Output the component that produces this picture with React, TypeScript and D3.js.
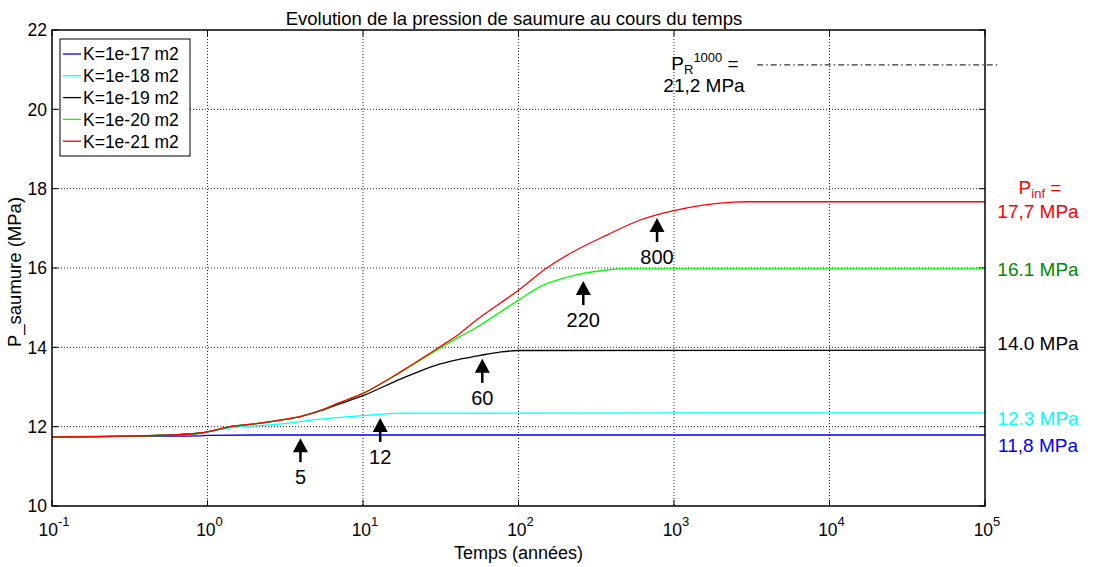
import React from "react";
import * as d3 from "d3";

const title = "Evolution de la pression de saumure au cours du temps";
const xLabel = "Temps (années)";
const yLabel = "P_saumure (MPa)";
const xTickExps = [-1, 0, 1, 2, 3, 4, 5];
const yTicks = [10, 12, 14, 16, 18, 20, 22];

const seriesNames = ["K=1e-17 m2", "K=1e-18 m2", "K=1e-19 m2", "K=1e-20 m2", "K=1e-21 m2"];
const seriesColors = ["#0000FF", "#00FFFF", "#000000", "#00FF00", "#FF0000"];

const tBlue = [0.1, 0.5, 0.9, 1, 2, 100000];
const vBlue = [11.75, 11.76, 11.77, 11.78, 11.79, 11.79];

const tCyan = [0.1, 0.2, 0.3, 0.6, 0.9, 1, 1.4, 2, 3, 5, 10, 12, 18, 100000];
const vCyan = [11.74, 11.75, 11.76, 11.79, 11.84, 11.87, 11.97, 12.02, 12.07, 12.18, 12.28, 12.3, 12.34, 12.35];

const tBlack = [0.1, 0.2, 0.3, 0.6, 0.9, 1, 1.4, 2, 3, 4, 5.4, 7, 10, 17.4, 21, 31.4, 42, 57, 76, 100, 100000];
const vBlack = [11.74, 11.75, 11.76, 11.79, 11.84, 11.87, 12.0, 12.07, 12.17, 12.26, 12.41, 12.57, 12.78, 13.2, 13.33, 13.58, 13.7, 13.8, 13.88, 13.92, 13.93];

const tGreen = [0.1, 0.2, 0.3, 0.6, 0.9, 1, 1.4, 2, 3, 4, 5.4, 7, 10, 17.4, 31.4, 42, 51, 100, 138, 225, 370, 450, 100000];
const vGreen = [11.74, 11.75, 11.76, 11.79, 11.84, 11.87, 12.0, 12.07, 12.17, 12.26, 12.42, 12.6, 12.84, 13.37, 13.98, 14.27, 14.45, 15.19, 15.53, 15.81, 15.95, 15.98, 15.98];

const tRed = [0.1, 0.2, 0.3, 0.6, 0.9, 1, 1.4, 2, 3, 4, 5.4, 7, 10, 17.4, 31.4, 42, 51, 100, 152, 225, 370, 606, 980, 1500, 2400, 3000, 100000];
const vRed = [11.74, 11.75, 11.76, 11.79, 11.84, 11.87, 12.0, 12.07, 12.17, 12.26, 12.42, 12.6, 12.84, 13.38, 14.02, 14.35, 14.62, 15.44, 16.0, 16.41, 16.83, 17.21, 17.44, 17.58, 17.66, 17.67, 17.67];

const seriesT = [tBlue, tCyan, tBlack, tGreen, tRed];
const seriesV = [vBlue, vCyan, vBlack, vGreen, vRed];

// annotations (arrow tip position in data units)
const annLabels = ["5", "12", "60", "220", "800"];
const annT = [3.96, 12.9, 58.5, 261, 778];
const annV = [11.71, 12.22, 13.71, 15.67, 17.26];

// reference level
const prLevel = 21.12;
const prTStart = 3430;
const prTEnd = 125000;

// right-side labels
const rightLabels = ["17,7 MPa", "16.1 MPa", "14.0 MPa", "12.3 MPa", "11,8 MPa"];
const rightLabelV = [17.44, 15.97, 14.1, 12.22, 11.54];
const rightLabelColors = ["#FF0000", "#008A00", "#000000", "#00FFFF", "#0000FF"];

const W = 1093;
const H = 567;
const m = { left: 52, right: 985, top: 30, bottom: 506 };
const FONT = "'Liberation Sans', Arial, Helvetica, sans-serif";

export default function App() {
  const x = d3.scaleLog().domain([0.1, 1e5]).range([m.left, m.right]);
  const y = d3.scaleLinear().domain([10, 22]).range([m.bottom, m.top]);
  const line = d3
    .line<[number, number]>()
    .x((d) => x(d[0]))
    .y((d) => y(d[1]))
    .curve(d3.curveMonotoneX);

  const gridStyle = { stroke: "#000", strokeWidth: 1, strokeDasharray: "1,2", opacity: 0.85 };

  return (
    <svg
      width={W}
      height={H}
      style={{ position: "absolute", left: 0, top: 0, background: "#fff" }}
      fontFamily={FONT}
    >
      <rect x={0} y={0} width={W} height={H} fill="#fff" />
      {/* grid */}
      {xTickExps.slice(1, -1).map((e) => (
        <line key={"gx" + e} x1={x(Math.pow(10, e))} x2={x(Math.pow(10, e))} y1={m.top} y2={m.bottom} {...gridStyle} />
      ))}
      {yTicks.slice(1, -1).map((v) => (
        <line key={"gy" + v} x1={m.left} x2={m.right} y1={y(v)} y2={y(v)} {...gridStyle} />
      ))}
      {/* ticks */}
      {xTickExps.map((e) => (
        <g key={"tx" + e}>
          <line x1={x(Math.pow(10, e))} x2={x(Math.pow(10, e))} y1={m.bottom} y2={m.bottom - 6} stroke="#000" />
          <line x1={x(Math.pow(10, e))} x2={x(Math.pow(10, e))} y1={m.top} y2={m.top + 6} stroke="#000" />
        </g>
      ))}
      {yTicks.map((v) => (
        <g key={"ty" + v}>
          <line x1={m.left} x2={m.left + 6} y1={y(v)} y2={y(v)} stroke="#000" />
          <line x1={m.right} x2={m.right - 6} y1={y(v)} y2={y(v)} stroke="#000" />
        </g>
      ))}
      {/* series */}
      {seriesT.map((ts, i) => (
        <path
          key={"s" + i}
          d={line(ts.map((t, j) => [t, seriesV[i][j]] as [number, number])) || ""}
          fill="none"
          stroke={seriesColors[i]}
          strokeWidth={1.3}
        />
      ))}
      {/* frame */}
      <rect x={m.left} y={m.top} width={m.right - m.left} height={m.bottom - m.top} fill="none" stroke="#000" strokeWidth={1.5} />
      {/* tick labels */}
      {yTicks.map((v) => (
        <text key={"yl" + v} x={m.left - 5} y={y(v)} dy="0.36em" textAnchor="end" fontSize={17.5}>
          {v}
        </text>
      ))}
      {xTickExps.map((e) => (
        <text key={"xl" + e} x={x(Math.pow(10, e)) + 2} y={536} textAnchor="middle" fontSize={17.5}>
          10
          <tspan dy={-10} fontSize={13}>
            {e}
          </tspan>
        </text>
      ))}
      <text x={(m.left + m.right) / 2} y={559} textAnchor="middle" fontSize={18}>
        {xLabel}
      </text>
      <text transform={`translate(21, 272) rotate(-90)`} textAnchor="middle" fontSize={18.5}>
        {yLabel}
      </text>
      <text x={514} y={25} textAnchor="middle" fontSize={18.5}>
        {title}
      </text>
      {/* legend */}
      <rect x={60} y={39} width={130} height={117} fill="#fff" stroke="#000" strokeWidth={1} />
      {seriesNames.map((n, i) => (
        <g key={"lg" + i}>
          <line x1={63} x2={81} y1={54 + i * 21.8} y2={54 + i * 21.8} stroke={seriesColors[i]} strokeWidth={1.3} />
          <text x={83} y={54 + i * 21.8} dy="0.36em" fontSize={17.5}>
            {n}
          </text>
        </g>
      ))}
      {/* reference level */}
      <line
        x1={x(prTStart)}
        x2={x(prTEnd)}
        y1={y(prLevel)}
        y2={y(prLevel)}
        stroke="#000"
        strokeWidth={1}
        strokeDasharray="6,3,1.5,3"
      />
      <text x={705} y={70} textAnchor="middle" fontSize={19}>
        P<tspan fontSize={13} dy={4}>R</tspan>
        <tspan fontSize={13} dy={-12}>1000</tspan>
        <tspan dy={8}> =</tspan>
      </text>
      <text x={704} y={92} textAnchor="middle" fontSize={19}>
        21,2 MPa
      </text>
      {/* right labels */}
      <text x={1040} y={y(18) - 2} dy="0.36em" textAnchor="middle" fontSize={19} fill="#FF0000">
        P<tspan fontSize={13} dy={4}>inf</tspan>
        <tspan dy={-4}> =</tspan>
      </text>
      {rightLabels.map((l, i) => (
        <text key={"rl" + i} x={1038} y={y(rightLabelV[i])} dy="0.36em" textAnchor="middle" fontSize={19} fill={rightLabelColors[i]}>
          {l}
        </text>
      ))}
      {/* annotations */}
      {annLabels.map((l, i) => {
        const ax = x(annT[i]);
        const ay = y(annV[i]);
        return (
          <g key={"an" + i}>
            <path d={`M${ax},${ay} L${ax - 7.5},${ay + 14} L${ax + 7.5},${ay + 14} Z`} fill="#000" />
            <line x1={ax} x2={ax} y1={ay + 12} y2={ay + 24} stroke="#000" strokeWidth={2.5} />
            <text x={ax} y={ay + 46} textAnchor="middle" fontSize={20}>
              {l}
            </text>
          </g>
        );
      })}
    </svg>
  );
}
